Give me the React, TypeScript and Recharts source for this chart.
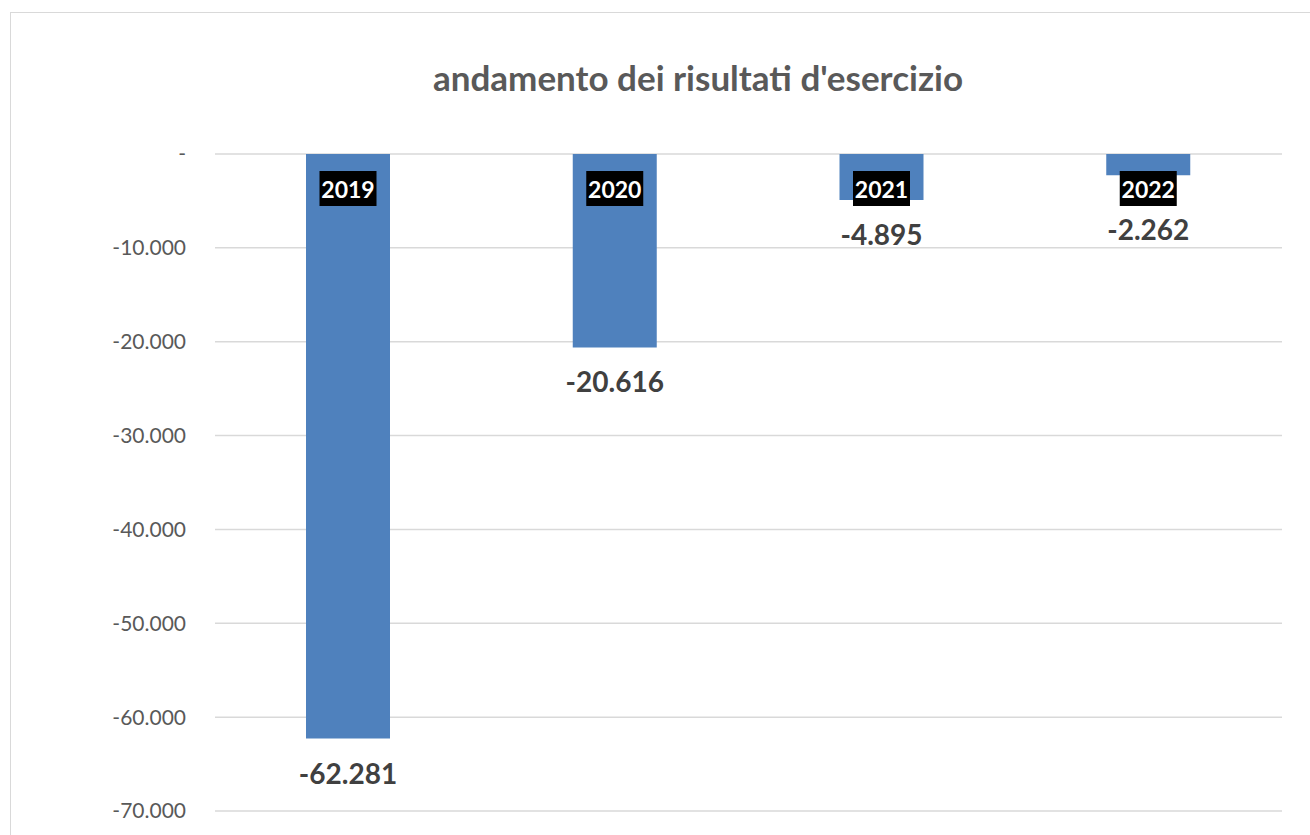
import { Bar, BarChart, CartesianGrid, LabelList, XAxis, YAxis } from "recharts";

const years = ["2019", "2020", "2021", "2022"];
const results = [-62281, -20616, -4895, -2262];
const yTicks = [0, -10000, -20000, -30000, -40000, -50000, -60000, -70000];

const data = years.map((year, i) => ({ year, value: results[i] }));

const FONT = "Lato, 'Open Sans', sans-serif";

function fmt(v: number) {
  if (v === 0) return "-";
  const s = Math.abs(v).toString().replace(/\B(?=(\d{3})+(?!\d))/g, ".");
  return (v < 0 ? "-" : "") + s;
}

function YearLabel(props: any) {
  const { x, y, width, height, value } = props;
  const cx = x + width / 2;
  const top = Math.min(y, y + height);
  return (
    <g>
      <rect x={cx - 28.5} y={top + 17} width={57} height={35} fill="#000" />
      <text
        x={cx}
        y={top + 35}
        textAnchor="middle"
        dominantBaseline="central"
        fill="#fff"
        fontSize={23}
        fontWeight={700}
        fontFamily={FONT}
      >
        {value}
      </text>
    </g>
  );
}

function ValueLabel(props: any) {
  const { x, y, width, height, value } = props;
  const cx = x + width / 2;
  const end = Math.max(y, y + height);
  const cy = Math.max(end + 34, 229);
  return (
    <text
      x={cx}
      y={cy}
      textAnchor="middle"
      dominantBaseline="central"
      fill="#404040"
      fontSize={28}
      fontWeight={700}
      fontFamily={FONT}
    >
      {fmt(value)}
    </text>
  );
}

export default function App() {
  return (
    <div
      style={{
        position: "absolute",
        left: 0,
        top: 0,
        width: 1310,
        height: 835,
        overflow: "hidden",
        background: "#fff",
      }}
    >
      <div
        style={{
          position: "absolute",
          left: 10,
          top: 12,
          width: 1400,
          height: 900,
          border: "1.5px solid #d9d9d9",
        }}
      />
      <div
        style={{
          position: "absolute",
          left: 0,
          top: 56,
          width: 1396,
          textAlign: "center",
          fontFamily: FONT,
          fontWeight: 700,
          fontSize: 35,
          color: "#595959",
          lineHeight: "42px",
        }}
      >
        andamento dei risultati d'esercizio
      </div>
      <div style={{ position: "absolute", left: 0, top: 0 }}>
        <BarChart
          width={1310}
          height={835}
          data={data}
          margin={{ top: 154, right: 28, bottom: 24, left: 0 }}
        >
          <CartesianGrid vertical={false} stroke="#d9d9d9" strokeWidth={1.5} />
          <XAxis dataKey="year" hide />
          <YAxis
            width={215}
            domain={[-70000, 0]}
            ticks={yTicks}
            tickFormatter={fmt}
            axisLine={false}
            tickLine={false}
            tickSize={0}
            tickMargin={29}
            tick={{ fontSize: 21, fill: "#595959", fontFamily: FONT }}
            interval={0}
          />
          <Bar dataKey="value" fill="#4f81bd" barSize={84} isAnimationActive={false}>
            <LabelList dataKey="year" content={YearLabel} />
            <LabelList dataKey="value" content={ValueLabel} />
          </Bar>
        </BarChart>
      </div>
    </div>
  );
}
